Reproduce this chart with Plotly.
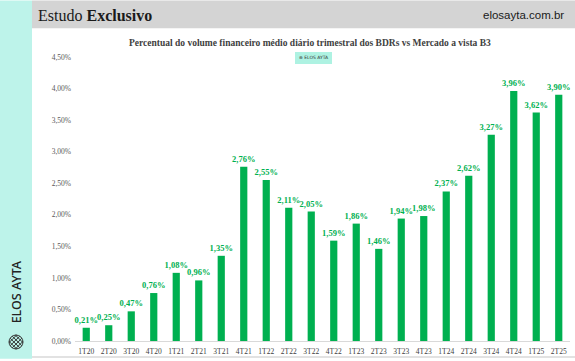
import math
import plotly.graph_objects as go

categories = ["1T20","2T20","3T20","4T20","1T21","2T21","3T21","4T21","1T22","2T22","3T22",
              "4T22","1T23","2T23","3T23","4T23","1T24","2T24","3T24","4T24","1T25","2T25"]
values = [0.21,0.25,0.47,0.76,1.08,0.96,1.35,2.76,2.55,2.11,2.05,
          1.59,1.86,1.46,1.94,1.98,2.37,2.62,3.27,3.96,3.62,3.90]
y_tickvals = [0,0.5,1.0,1.5,2.0,2.5,3.0,3.5,4.0,4.5]
y_ticktext = ["0,00%","0,50%","1,00%","1,50%","2,00%","2,50%","3,00%","3,50%","4,00%","4,50%"]

W, H = 575, 361
L, R, T, B = 75, 5, 57, 18
pw, ph = W - L - R, H - T - B

def px(x):
    return (x - L) / pw

def py(y):
    return (H - B - y) / ph

GREEN = "#00b050"
SERIF = "Liberation Serif"

fig = go.Figure()
fig.add_trace(go.Bar(
    x=categories, y=values, marker=dict(color=GREEN, line=dict(width=0)),
    texttemplate="%{y:.2f}%", textposition="outside", cliponaxis=False,
    constraintext="none",
    textfont=dict(family=SERIF, size=8.5, color=GREEN, weight="bold"),
    width=0.32,
))

shapes = [
    dict(type="rect", xref="paper", yref="paper", x0=px(0), x1=px(32), y0=py(H), y1=py(0),
         fillcolor="#bdf3ea", line=dict(width=0), layer="below"),
    dict(type="rect", xref="paper", yref="paper", x0=px(32), x1=px(W), y0=py(28), y1=py(0),
         fillcolor="#d4d4d4", line=dict(width=0), layer="below"),
    dict(type="line", xref="paper", yref="paper", x0=px(32), x1=px(W), y0=py(359), y1=py(359),
         line=dict(color="#d9d9d9", width=1.5)),
    dict(type="rect", xref="paper", yref="paper", x0=px(295), x1=px(332), y0=py(64), y1=py(52),
         fillcolor="#aef2e2", line=dict(width=0)),
]

# lattice icon in left strip
cx, cy, r = 16, 344, 7
path = ""
for k in (-4.5, -1.5, 1.5, 4.5):
    half = math.sqrt(max(r * r - k * k, 0))
    for ux, uy in ((1 / math.sqrt(2), 1 / math.sqrt(2)), (1 / math.sqrt(2), -1 / math.sqrt(2))):
        nx, ny = -uy, ux
        x0 = cx + nx * k - ux * half; y0 = cy + ny * k - uy * half
        x1 = cx + nx * k + ux * half; y1 = cy + ny * k + uy * half
        path += f"M{px(x0)},{py(y0)} L{px(x1)},{py(y1)} "
shapes.append(dict(type="path", xref="paper", yref="paper", path=path,
                   line=dict(color="#333333", width=1)))
shapes.append(dict(type="circle", xref="paper", yref="paper",
                   x0=px(cx - r), x1=px(cx + r), y0=py(cy + r), y1=py(cy - r),
                   line=dict(color="#333333", width=1)))

annotations = [
    dict(text="Estudo <b>Exclusivo</b>", xref="paper", yref="paper", x=px(36), y=py(15),
         xanchor="left", yanchor="middle", showarrow=False,
         font=dict(family=SERIF, size=16, color="#1a1a1a")),
    dict(text="elosayta.com.br", xref="paper", yref="paper", x=px(566), y=py(15),
         xanchor="right", yanchor="middle", showarrow=False,
         font=dict(family="Liberation Sans", size=11.5, color="#1a1a1a")),
    dict(text="<b>Percentual do volume financeiro médio diário trimestral dos BDRs vs Mercado a vista B3</b>",
         xref="paper", yref="paper", x=px(310), y=py(43), xanchor="center", yanchor="middle",
         showarrow=False, font=dict(family=SERIF, size=9.5, color="#404040")),
    dict(text="⊛ ELOS AYTA", xref="paper", yref="paper", x=px(313.5), y=py(58),
         xanchor="center", yanchor="middle", showarrow=False,
         font=dict(family="DejaVu Sans", size=4.5, color="#333333")),
    dict(text="ELOS AYTA", xref="paper", yref="paper", x=px(16), y=py(294), textangle=-90,
         xanchor="center", yanchor="middle", showarrow=False,
         font=dict(family="Noto Sans", size=12.5, color="#222222", weight=500)),
]

fig.update_layout(
    width=W, height=H, margin=dict(l=L, r=R, t=T, b=B),
    paper_bgcolor="white", plot_bgcolor="white",
    separators=",.", showlegend=False,
    shapes=shapes, annotations=annotations,
    xaxis=dict(type="category", showgrid=False, showline=True, linecolor="#d9d9d9", linewidth=1,
               ticks="", tickfont=dict(family=SERIF, size=7.5, color="#404040"), ticklabelstandoff=3),
    yaxis=dict(range=[0, 4.5], tickvals=y_tickvals, ticktext=y_ticktext, showgrid=False,
               zeroline=False, showline=False, ticks="",
               tickfont=dict(family=SERIF, size=7.5, color="#595959"), ticklabelstandoff=3),
)

fig.write_html("out.html", config={"displayModeBar": False},
               post_script="document.body.style.margin='0';")
